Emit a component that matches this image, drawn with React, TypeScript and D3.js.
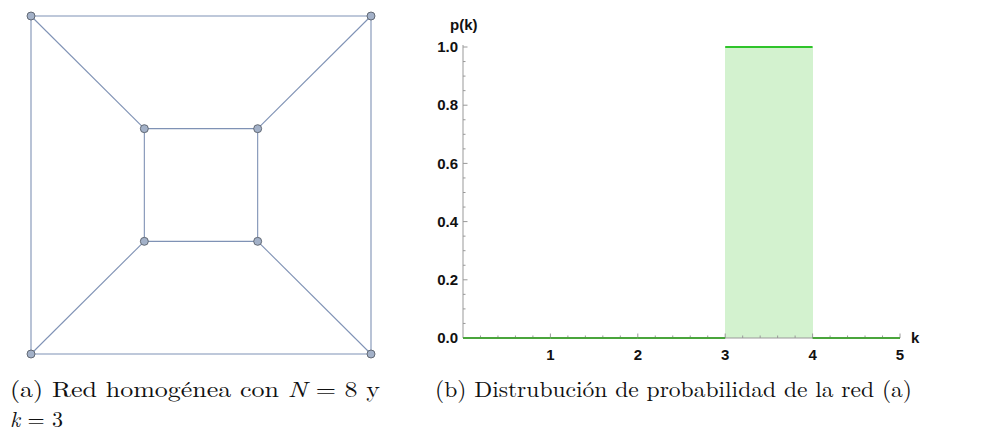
import React from "react";
import * as d3 from "d3";

// Graph data (layout in unit coordinates)
const nodeIds = ["o1", "o2", "o3", "o4", "i1", "i2", "i3", "i4"];
const nodeX = [-1, 1, -1, 1, -1 / 3, 1 / 3, -1 / 3, 1 / 3];
const nodeY = [1, 1, -1, -1, 1 / 3, 1 / 3, -1 / 3, -1 / 3];
const edges: [string, string][] = [
  ["o1", "o2"], ["o1", "o3"], ["o2", "o4"], ["o3", "o4"],
  ["o1", "i1"], ["o2", "i2"], ["o3", "i3"], ["o4", "i4"],
  ["i1", "i2"], ["i1", "i3"], ["i2", "i4"], ["i3", "i4"],
];

// Distribution data
const kBins = [0, 1, 2, 3, 4];
const pValues = [0, 0, 0, 1, 0];
const xTicks = [1, 2, 3, 4, 5];
const yTicks = [0, 0.2, 0.4, 0.6, 0.8, 1.0];

const captionB = "(b) Distrubución de probabilidad de la red (a)";

export default function App() {
  const W = 986, H = 433;
  const gx = d3.scaleLinear().domain([-1, 1]).range([31, 371]);
  const gy = d3.scaleLinear().domain([1, -1]).range([16, 354]);
  const idx = (id: string) => nodeIds.indexOf(id);

  const x = d3.scaleLinear().domain([0, 5]).range([463, 900]);
  const y = d3.scaleLinear().domain([0, 1]).range([338, 47]);

  const xMinor = d3.range(0, 5.0001, 0.2).filter((v) => Math.abs(v - Math.round(v)) > 1e-6);
  const yMinor = d3.range(0, 1.0001, 0.05).filter((v) => Math.abs(v * 5 - Math.round(v * 5)) > 1e-6);

  const sans = "'Liberation Sans', Arial, sans-serif";
  const serif = "'Latin Modern Roman', 'Liberation Serif', 'DejaVu Serif', serif";
  const fs = 15;

  return (
    <svg width={W} height={H} style={{ position: "absolute", left: 0, top: 0, background: "#fff" }}>
      {/* Graph */}
      <g>
        {edges.map(([a, b], i) => (
          <line key={i} x1={gx(nodeX[idx(a)])} y1={gy(nodeY[idx(a)])} x2={gx(nodeX[idx(b)])} y2={gy(nodeY[idx(b)])}
            stroke="#7f92b5" strokeWidth={1.1} />
        ))}
        {nodeIds.map((id, i) => (
          <circle key={id} cx={gx(nodeX[i])} cy={gy(nodeY[i])} r={4} fill="#a3b1c8" stroke="#59606a" strokeWidth={0.9} />
        ))}
      </g>

      {/* Distribution */}
      <g>
        {kBins.map((k, i) => pValues[i] > 0 ? (
          <rect key={"f" + i} x={x(k)} y={y(pValues[i])} width={x(k + 1) - x(k)} height={y(0) - y(pValues[i])} fill="#d3f2cf" shapeRendering="crispEdges" />
        ) : null)}
        {/* axes */}
        <line x1={x(0)} x2={x(0)} y1={y(0)} y2={y(1) - 2} stroke="#999" strokeWidth={1} />
        <line x1={x(0)} x2={x(5)} y1={y(0)} y2={y(0)} stroke="#999" strokeWidth={1} />
        {yTicks.map((t) => (
          <line key={"yt" + t} x1={x(0)} x2={x(0) + 4.5} y1={y(t)} y2={y(t)} stroke="#999" strokeWidth={1} />
        ))}
        {yMinor.map((t, i) => (
          <line key={"ym" + i} x1={x(0)} x2={x(0) + 2.5} y1={y(t)} y2={y(t)} stroke="#999" strokeWidth={1} />
        ))}
        {xTicks.map((t) => (
          <line key={"xt" + t} x1={x(t)} x2={x(t)} y1={y(0)} y2={y(0) - 4.5} stroke="#999" strokeWidth={1} />
        ))}
        {xMinor.map((t, i) => (
          <line key={"xm" + i} x1={x(t)} x2={x(t)} y1={y(0)} y2={y(0) - 2.5} stroke="#999" strokeWidth={1} />
        ))}
        {kBins.map((k, i) => (
          <line key={"s" + i} x1={x(k)} x2={x(k + 1)} y1={y(pValues[i])} y2={y(pValues[i])}
            stroke={pValues[i] > 0 ? "#2fc42a" : "#4aa53c"} strokeWidth={2} />
        ))}
        {yTicks.map((t) => (
          <text key={"yl" + t} x={x(0) - 5} y={y(t)} dy="0.35em" textAnchor="end" fontFamily={sans} fontWeight="bold" fontSize={fs} fill="#111">
            {t.toFixed(1)}
          </text>
        ))}
        {xTicks.map((t) => (
          <text key={"xl" + t} x={x(t)} y={y(0) + 17} dy="0.35em" textAnchor="middle" fontFamily={sans} fontWeight="bold" fontSize={fs} fill="#111">
            {t}
          </text>
        ))}
        <text x={x(5) + 11} y={y(0)} dy="0.35em" fontFamily={sans} fontWeight="bold" fontSize={fs} fill="#111">k</text>
        <text x={450} y={25} dy="0.35em" fontFamily={sans} fontWeight="bold" fontSize={fs} fill="#111">p(k)</text>
      </g>

      {/* Captions */}
      <text x={10} y={397} fontFamily={serif} fontSize={22} fill="#111" textLength={370} lengthAdjust="spacingAndGlyphs">
        (a) Red homogénea con <tspan fontStyle="italic">N</tspan> = 8 y
      </text>
      <text x={10} y={427} fontFamily={serif} fontSize={22} fill="#111">
        <tspan fontStyle="italic">k</tspan> = 3
      </text>
      <text x={435} y={397} fontFamily={serif} fontSize={22} fill="#111" textLength={477} lengthAdjust="spacingAndGlyphs">
        {captionB}
      </text>
    </svg>
  );
}
